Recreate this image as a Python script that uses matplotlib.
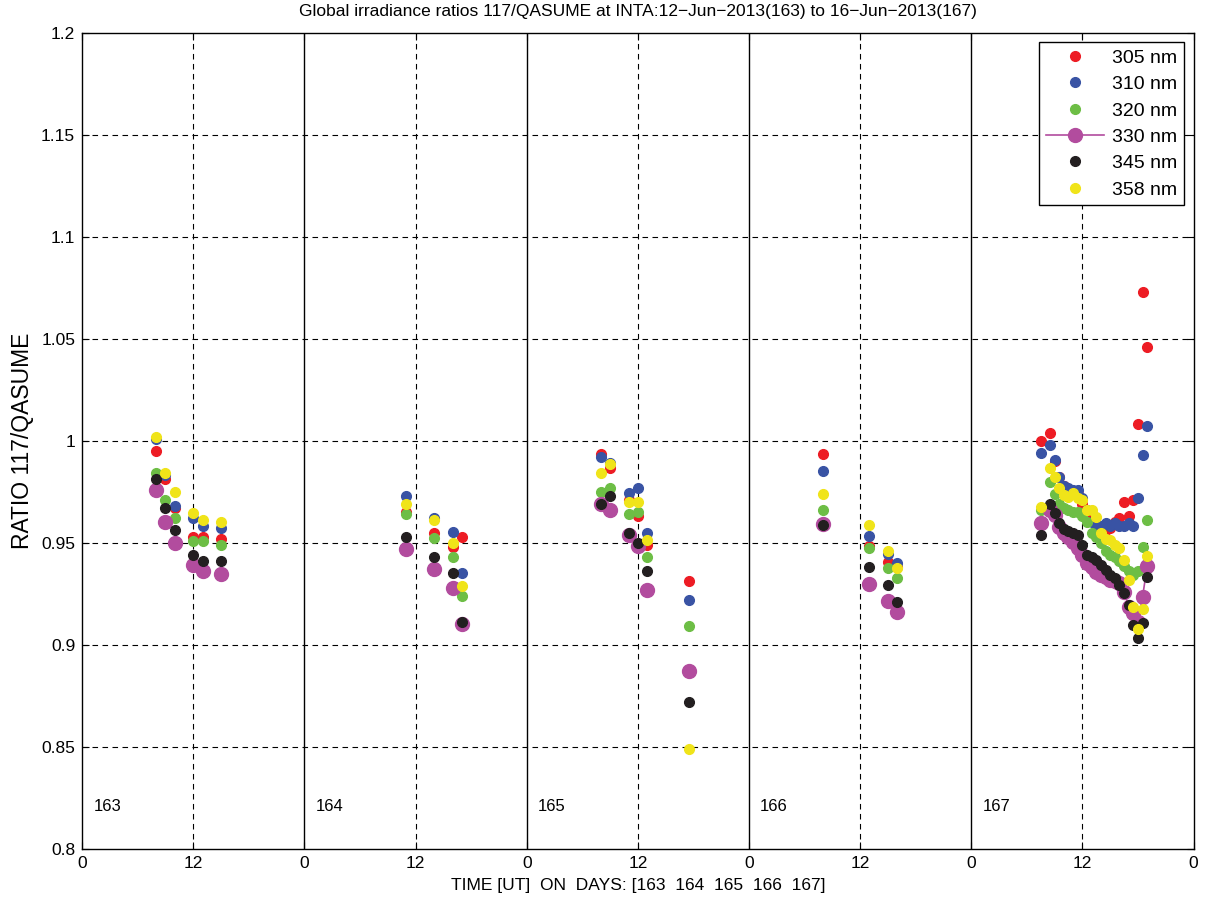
"""
Global irradiance ratios 117/QASUME at INTA, 12-16 Jun 2013
"""
import matplotlib
matplotlib.use("Agg")
import matplotlib.pyplot as plt
import numpy as np

plt.rcParams["font.family"] = ["Liberation Sans", "DejaVu Sans"]

# sample times: day index (0 = day 163) and UT hour
DAY = [0] * 6 + [1] * 4 + [2] * 6 + [3] * 4 + [4] * 23
HOUR = [8, 9, 10, 12, 13, 15,
        11, 14, 16, 17,
        8, 9, 11, 12, 13, 17.5,
        8, 13, 15, 16,
        7.5, 8.5, 9, 9.5, 10, 10.5, 11, 11.5, 12, 12.5, 13, 13.5, 14, 14.5,
        15, 15.5, 16, 16.5, 17, 17.5, 18, 18.5, 19]

R305 = [0.995, 0.981, 0.967, 0.953, 0.953, 0.952,
        0.965, 0.955, 0.948, 0.953,
        0.9935, 0.9864, 0.971, 0.963, 0.949, 0.931,
        0.9935, 0.9484, 0.9407, 0.9383,
        1.000, 1.004, 0.990, 0.982, 0.978, 0.976, 0.975, 0.974, 0.969, 0.962,
        0.961, 0.959, 0.957, 0.956, 0.957, 0.960, 0.962, 0.970, 0.963, 0.971,
        1.008, 1.073, 1.046]
R310 = [1.001, 0.983, 0.968, 0.962, 0.958, 0.957,
        0.973, 0.962, 0.9555, 0.935,
        0.992, 0.989, 0.9746, 0.9767, 0.955, 0.922,
        0.9854, 0.9535, 0.9443, 0.940,
        0.994, 0.998, 0.9905, 0.982, 0.978, 0.977, 0.976, 0.9758, 0.972, 0.966,
        0.960, 0.959, 0.958, 0.9595, 0.958, 0.9595, 0.958, 0.958, 0.9595, 0.958,
        0.972, 0.993, 1.007]
R320 = [0.984, 0.971, 0.962, 0.951, 0.951, 0.949,
        0.964, 0.9525, 0.943, 0.924,
        0.975, 0.977, 0.964, 0.965, 0.943, 0.909,
        0.9658, 0.9473, 0.9374, 0.9326,
        0.966, 0.980, 0.974, 0.969, 0.967, 0.966, 0.965, 0.965, 0.963, 0.960,
        0.955, 0.953, 0.950, 0.946, 0.944, 0.943, 0.941, 0.9385, 0.936, 0.934,
        0.936, 0.948, 0.961]
R330 = [0.976, 0.960, 0.950, 0.939, 0.936, 0.9345,
        0.947, 0.937, 0.928, 0.910,
        0.969, 0.966, 0.954, 0.9486, 0.927, 0.887,
        0.959, 0.930, 0.9214, 0.916,
        0.9595, 0.966, 0.9636, 0.9578, 0.955, 0.953, 0.9505, 0.9473, 0.944, 0.940,
        0.938, 0.9355, 0.934, 0.933, 0.9317, 0.931, 0.9305, 0.926, 0.9186, 0.9154,
        0.911, 0.9235, 0.9386]
R345 = [0.981, 0.967, 0.956, 0.944, 0.941, 0.941,
        0.953, 0.943, 0.935, 0.911,
        0.969, 0.973, 0.9547, 0.950, 0.936, 0.872,
        0.9587, 0.9383, 0.9293, 0.921,
        0.9538, 0.969, 0.9644, 0.9595, 0.9567, 0.9557, 0.9546, 0.9538, 0.9489, 0.944,
        0.9431, 0.9415, 0.939, 0.9366, 0.9342, 0.9325, 0.9293, 0.9252, 0.9195, 0.9097,
        0.9031, 0.9108, 0.933]
R358 = [1.002, 0.984, 0.975, 0.9645, 0.961, 0.960,
        0.969, 0.961, 0.950, 0.929,
        0.9844, 0.9886, 0.970, 0.970, 0.9514, 0.849,
        0.974, 0.9586, 0.946, 0.9378,
        0.9677, 0.9868, 0.9824, 0.9767, 0.9734, 0.9725, 0.9742, 0.972, 0.9709, 0.966,
        0.966, 0.9627, 0.9546, 0.952, 0.9513, 0.949, 0.9473, 0.9415, 0.9317, 0.9186,
        0.9075, 0.9174, 0.9435]

DAYS = [163, 164, 165, 166, 167]
WAVES = ["305 nm", "310 nm", "320 nm", "330 nm", "345 nm", "358 nm"]
COLORS = ["#ED1C24", "#3953A4", "#6DBE45", "#B24C9E", "#231F20", "#F0E419"]

t = np.array(DAY) + np.array(HOUR) / 24.0
series = [R305, R310, R320, R330, R345, R358]

fig = plt.figure(figsize=(12.08, 9.01), dpi=100)
ax = fig.add_axes([0.068, 0.058, 0.920, 0.9057])

for name, vals, col in zip(WAVES, series, COLORS):
    vals = np.array(vals)
    if name == "330 nm":
        # connect only consecutive samples (break on gaps)
        xs, ys = [], []
        for i in range(len(t)):
            if i > 0 and (t[i] - t[i - 1]) * 24 > 0.6:
                xs.append(np.nan)
                ys.append(np.nan)
            xs.append(t[i])
            ys.append(vals[i])
        ax.plot(xs, ys, "-o", color=col, lw=1.2, ms=10, mec=col,
                label=name, zorder=3)
    else:
        ax.plot(t, vals, "o", color=col, ms=7, mec=col, ls="none",
                label=name, zorder=3)

# grid: dashed at 12 UT, solid at day boundaries
for d in range(len(DAYS)):
    ax.axvline(d + 0.5, color="black", ls=(0, (5, 4)), lw=0.8, zorder=1)
    if d > 0:
        ax.axvline(d, color="black", lw=1.0, zorder=1)
for y in np.arange(0.85, 1.2, 0.05):
    ax.axhline(y, color="black", ls=(0, (5, 4)), lw=0.8, zorder=1)

for d, day in enumerate(DAYS):
    ax.text(d + 1.2 / 24, 0.8205, str(day), fontsize=12, va="center", ha="left")

ax.set_xlim(0, 5)
ax.set_ylim(0.8, 1.2)
ax.set_xticks(np.arange(0, 5.01, 0.5))
ax.set_xticklabels(["0", "12"] * 5 + ["0"], fontsize=12.5)
ax.set_yticks(np.arange(0.8, 1.201, 0.05))
ax.set_yticklabels(["%g" % v for v in np.round(np.arange(0.8, 1.201, 0.05), 2)],
                   fontsize=12.5)
ax.tick_params(direction="in", top=True, right=True, length=5, width=0.8, pad=5)
for sp in ax.spines.values():
    sp.set_linewidth(1.0)

ax.set_xlabel("TIME [UT]  ON  DAYS: [163  164  165  166  167]", fontsize=12.5,
              labelpad=5)
ax.set_ylabel("RATIO 117/QASUME", fontsize=16.5, labelpad=5)
ax.set_title("Global irradiance ratios 117/QASUME at INTA:12\u2212Jun\u22122013(163) "
             "to 16\u2212Jun\u22122013(167)", fontsize=12.5, pad=12)

leg = ax.legend(loc="upper right", fontsize=14, handlelength=3,
                borderaxespad=0.5, fancybox=False, framealpha=1,
                edgecolor="black", labelspacing=0.45, handletextpad=0.4,
                borderpad=0.35)
leg.get_frame().set_linewidth(1.0)

plt.savefig("out.png", dpi=100)
plt.close()
